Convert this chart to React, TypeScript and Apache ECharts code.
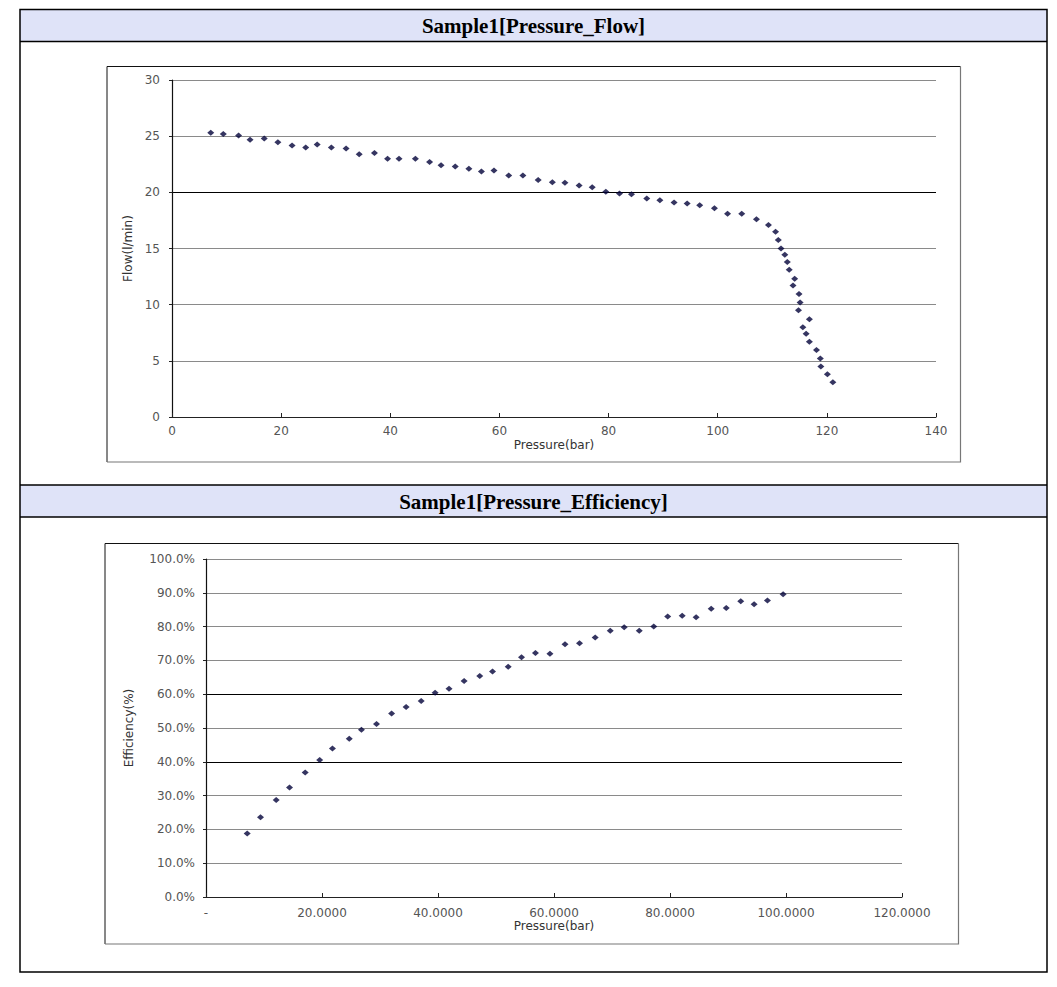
import React, { useEffect, useRef } from "react";
import * as echarts from "echarts";

const titleFlow = "Sample1[Pressure_Flow]";
const titleEff = "Sample1[Pressure_Efficiency]";

const flowPressure = [7.1, 9.4, 12.2, 14.3, 16.9, 19.4, 22.0, 24.5, 26.6, 29.2, 31.9, 34.3, 37.1, 39.5, 41.6, 44.6, 47.2, 49.3, 51.9, 54.4, 56.7, 59.0, 61.7, 64.3, 67.1, 69.7, 72.0, 74.6, 77.0, 79.5, 82.0, 84.2, 87.0, 89.4, 92.0, 94.4, 96.7, 99.4, 101.8, 104.4, 107.1, 109.3, 110.6, 111.1, 111.6, 112.3, 112.75, 113.1, 114.1, 113.8, 114.9, 115.1, 114.8, 116.8, 115.6, 116.2, 116.8, 118.1, 118.8, 118.9, 120.1, 121.1];
const flowValues = [25.3, 25.2, 25.05, 24.67, 24.8, 24.46, 24.16, 24.0, 24.25, 24.0, 23.9, 23.4, 23.5, 23.0, 23.0, 23.0, 22.7, 22.4, 22.3, 22.1, 21.85, 21.95, 21.5, 21.5, 21.1, 20.9, 20.85, 20.6, 20.45, 20.06, 19.9, 19.83, 19.44, 19.3, 19.1, 19.0, 18.85, 18.58, 18.1, 18.1, 17.6, 17.1, 16.5, 15.76, 15.0, 14.45, 13.8, 13.1, 12.3, 11.7, 10.95, 10.2, 9.5, 8.7, 8.0, 7.4, 6.7, 5.97, 5.2, 4.5, 3.8, 3.1];

const effPressure = [7.1, 9.4, 12.1, 14.4, 17.1, 19.6, 21.8, 24.7, 26.8, 29.4, 32.0, 34.5, 37.1, 39.5, 41.9, 44.5, 47.2, 49.4, 52.1, 54.4, 56.8, 59.3, 61.9, 64.4, 67.1, 69.7, 72.1, 74.7, 77.2, 79.6, 82.1, 84.5, 87.1, 89.7, 92.2, 94.5, 96.8, 99.5];
const effValues = [18.8, 23.6, 28.7, 32.4, 36.8, 40.5, 43.9, 46.8, 49.5, 51.2, 54.3, 56.2, 58.0, 60.45, 61.6, 63.9, 65.4, 66.7, 68.1, 70.9, 72.2, 72.0, 74.8, 75.1, 76.8, 78.8, 79.8, 78.8, 80.0, 83.0, 83.2, 82.75, 85.3, 85.5, 87.5, 86.6, 87.7, 89.6];

const flowXTicks = { min: 0, max: 140, interval: 20 };
const flowYTicks = { min: 0, max: 30, interval: 5 };
const effXTicks = { min: 0, max: 120, interval: 20 };
const effYTicks = { min: 0, max: 100, interval: 10 };

const GRAY = "#8a8a8a";
const DARK = "#000000";
const MARK = "#03033a";
const LABEL_FONT = "DejaVu Sans";

function frame(x1: number, y1: number, x2: number, y2: number) {
  return [
    { type: "polyline", shape: { points: [[x1, y2], [x1, y1], [x2, y1]] }, style: { stroke: "#111", lineWidth: 1, fill: null }, z: 0 },
    { type: "polyline", shape: { points: [[x2, y1], [x2, y2], [x1, y2]] }, style: { stroke: "#777", lineWidth: 1.2, fill: null }, z: 0 },
  ];
}

export default function App() {
  const ref = useRef<HTMLDivElement>(null);
  useEffect(() => {
    if (!ref.current) return;
    const chart = echarts.init(ref.current, null, { renderer: "svg" });
    const axisLabelStyle = { fontFamily: LABEL_FONT, fontSize: 12, color: "#555" };
    const nameStyle = { fontFamily: LABEL_FONT, fontSize: 12, color: "#333" };
    const option: any = {
      animation: false,
      backgroundColor: "#ffffff",
      graphic: [
        { type: "rect", shape: { x: 20, y: 9.5, width: 1027, height: 32 }, style: { fill: "#dfe3f8" }, z: 0 },
        { type: "rect", shape: { x: 20, y: 485, width: 1027, height: 32 }, style: { fill: "#dfe3f8" }, z: 0 },
        { type: "rect", shape: { x: 20, y: 9.5, width: 1027, height: 962.5 }, style: { fill: null, stroke: "#000", lineWidth: 1.5 }, z: 1 },
        { type: "line", shape: { x1: 20, y1: 41.5, x2: 1047, y2: 41.5 }, style: { stroke: "#000", lineWidth: 1.5 }, z: 1 },
        { type: "line", shape: { x1: 20, y1: 485, x2: 1047, y2: 485 }, style: { stroke: "#000", lineWidth: 1.5 }, z: 1 },
        { type: "line", shape: { x1: 20, y1: 517, x2: 1047, y2: 517 }, style: { stroke: "#000", lineWidth: 1.5 }, z: 1 },
        { type: "text", x: 533.5, y: 26, style: { text: titleFlow, fontFamily: "Liberation Serif", fontWeight: "bold", fontSize: 21, fill: "#000", align: "center", verticalAlign: "middle" }, z: 2 },
        { type: "text", x: 533.5, y: 502, style: { text: titleEff, fontFamily: "Liberation Serif", fontWeight: "bold", fontSize: 21, fill: "#000", align: "center", verticalAlign: "middle" }, z: 2 },
        ...frame(107, 66.5, 960.5, 462),
        ...frame(105, 543.5, 958.5, 944),
      ],
      grid: [
        { left: 172, top: 80, width: 764, height: 337, containLabel: false },
        { left: 206, top: 559, width: 696, height: 338, containLabel: false },
      ],
      xAxis: [
        {
          type: "value", gridIndex: 0, ...flowXTicks,
          name: "Pressure(bar)", nameLocation: "middle", nameGap: 22, nameTextStyle: nameStyle,
          axisLine: { show: true, onZero: false, lineStyle: { color: "#222", width: 1 } },
          axisTick: { show: true, inside: true, length: 4, lineStyle: { color: "#222" } },
          axisLabel: { ...axisLabelStyle, margin: 8 },
          splitLine: { show: false },
        },
        {
          type: "value", gridIndex: 1, ...effXTicks,
          name: "Pressure(bar)", nameLocation: "middle", nameGap: 20, nameTextStyle: nameStyle,
          axisLine: { show: true, onZero: false, lineStyle: { color: "#222", width: 1 } },
          axisTick: { show: true, inside: true, length: 4, lineStyle: { color: "#222" } },
          axisLabel: { ...axisLabelStyle, margin: 10, formatter: (v: number) => (v === 0 ? "-" : v.toFixed(4)) },
          splitLine: { show: false },
        },
      ],
      yAxis: [
        {
          type: "value", gridIndex: 0, ...flowYTicks,
          name: "Flow(l/min)", nameLocation: "middle", nameGap: 35, nameTextStyle: nameStyle,
          axisLine: { show: true, lineStyle: { color: "#111", width: 1.2 } },
          axisTick: { show: true, length: 3, lineStyle: { color: "#222" } },
          axisLabel: { ...axisLabelStyle, margin: 12 },
          splitLine: { show: true, lineStyle: { color: [GRAY, GRAY, GRAY, GRAY, DARK, GRAY, GRAY], width: 1 } },
        },
        {
          type: "value", gridIndex: 1, ...effYTicks,
          name: "Efficiency(%)", nameLocation: "middle", nameGap: 71, nameTextStyle: nameStyle,
          axisLine: { show: true, lineStyle: { color: "#111", width: 1.2 } },
          axisTick: { show: true, length: 3, lineStyle: { color: "#222" } },
          axisLabel: { ...axisLabelStyle, margin: 11, formatter: (v: number) => v.toFixed(1) + "%" },
          splitLine: { show: true, lineStyle: { color: [GRAY, GRAY, GRAY, GRAY, DARK, GRAY, DARK, GRAY, GRAY, GRAY, GRAY], width: 1 } },
        },
      ],
      series: [
        {
          type: "scatter", xAxisIndex: 0, yAxisIndex: 0,
          symbol: "diamond", symbolSize: [7, 6],
          itemStyle: { color: MARK },
          data: flowPressure.map((p, i) => [p, flowValues[i]]),
        },
        {
          type: "scatter", xAxisIndex: 1, yAxisIndex: 1,
          symbol: "diamond", symbolSize: [7, 6],
          itemStyle: { color: MARK },
          data: effPressure.map((p, i) => [p, effValues[i]]),
        },
      ],
    };
    chart.setOption(option);
    return () => chart.dispose();
  }, []);
  return (
    <div style={{ position: "absolute", left: 0, top: 0, width: 1057, height: 987, background: "#fff" }}>
      <div ref={ref} style={{ width: 1057, height: 987 }} />
    </div>
  );
}
